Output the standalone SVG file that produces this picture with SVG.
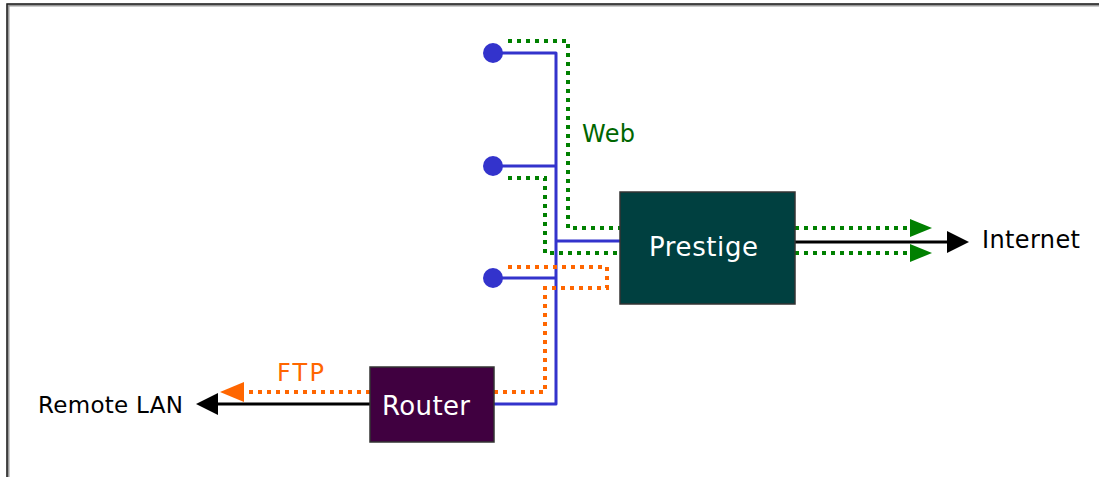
<svg xmlns="http://www.w3.org/2000/svg" width="1099" height="477" viewBox="0 0 1099 477">
<style>
.bus{fill:none;stroke:#3333cc;stroke-width:3;stroke-linejoin:round}
.dot{fill:#3333cc}
.gd{fill:none;stroke:#008000;stroke-width:4;stroke-dasharray:4 5}
.od{fill:none;stroke:#ff6600;stroke-width:4;stroke-dasharray:4 5}
.blk{fill:none;stroke:#000;stroke-width:3}
.box{stroke:#333;stroke-width:1.5}
.lbl{font-family:"DejaVu Sans","Liberation Sans",sans-serif}
</style>
<defs>
<marker id="ag" viewBox="0 0 22 18" markerWidth="22" markerHeight="18" refX="0" refY="9" orient="auto" markerUnits="userSpaceOnUse"><path d="M0,0 L22,9 L0,18 z" fill="#008000"/></marker>
<marker id="ab" viewBox="0 0 22 22" markerWidth="22" markerHeight="22" refX="0" refY="11" orient="auto" markerUnits="userSpaceOnUse"><path d="M0,0 L22,11 L0,22 z" fill="#000"/></marker>
<marker id="ao" viewBox="0 0 24 20" markerWidth="24" markerHeight="20" refX="0" refY="10" orient="auto" markerUnits="userSpaceOnUse"><path d="M0,0 L24,10 L0,20 z" fill="#ff6600"/></marker>
</defs>
<rect width="1099" height="477" fill="#fff"/>
<path d="M8,477 V5 H1099" fill="none" stroke="#999" stroke-width="3"/>
<path d="M7,477 V4 H1099" fill="none" stroke="#222" stroke-width="1.5"/>
<g id="connectors">
<path class="bus" d="M493,53 H556 V404 H494"/>
<path class="bus" d="M493,166 H556"/>
<path class="bus" d="M493,278 H556"/>
<path class="bus" d="M556,241 H620"/>
<path class="gd" d="M508,41 H568 V228 H620"/>
<path class="gd" d="M508,178 H545 V253 H620"/>
<path class="od" d="M508,267 H607 V288 H545 V392 H494"/>
<path class="gd" d="M795,228 H910" marker-end="url(#ag)"/>
<path class="gd" d="M795,253 H910" marker-end="url(#ag)"/>
<path class="blk" d="M795,242 H947" marker-end="url(#ab)"/>
<path class="od" d="M370,392 H244" marker-end="url(#ao)"/>
<path class="blk" d="M370,404 H218" marker-end="url(#ab)"/>
<text class="lbl" x="582" y="142" font-size="24" fill="#006600" textLength="53">Web</text>
<text class="lbl" x="277" y="381" font-size="24" fill="#ff6600" textLength="47">FTP</text>
</g>
<g id="pc1"><circle class="dot" cx="493" cy="53" r="10"/></g>
<g id="pc2"><circle class="dot" cx="493" cy="166" r="10"/></g>
<g id="pc3"><circle class="dot" cx="493" cy="278" r="10"/></g>
<g id="prestige">
<rect class="box" x="620" y="192" width="175" height="112" fill="#004040"/>
<text class="lbl" x="649" y="256" font-size="26" fill="#fff" textLength="109">Prestige</text>
</g>
<g id="router">
<rect class="box" x="370" y="367" width="124" height="75" fill="#400040"/>
<text class="lbl" x="382" y="415" font-size="26" fill="#fff" textLength="88">Router</text>
</g>
<g id="internet">
<text class="lbl" x="982" y="248" font-size="24" fill="#000" textLength="98">Internet</text>
</g>
<g id="remote-lan">
<text class="lbl" x="38" y="413" font-size="23" fill="#000" textLength="145">Remote LAN</text>
</g>
</svg>
